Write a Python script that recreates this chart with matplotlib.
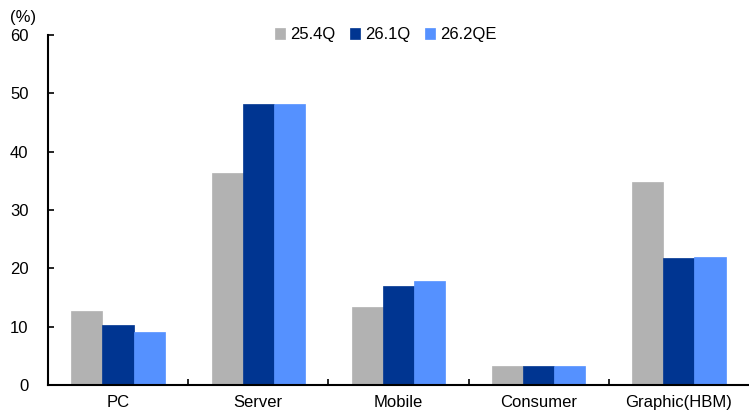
import numpy as np
import matplotlib.pyplot as plt

categories = ["PC", "Server", "Mobile", "Consumer", "Graphic(HBM)"]
series_names = ["25.4Q", "26.1Q", "26.2QE"]
q25_4 = [12.7, 36.4, 13.4, 3.3, 34.8]
q26_1 = [10.3, 48.1, 17.0, 3.3, 21.7]
q26_2e = [9.1, 48.1, 17.9, 3.3, 22.0]
colors = ["#B2B2B2", "#003591", "#5591FF"]

plt.rcParams['font.family'] = ['Liberation Sans', 'DejaVu Sans']

fig = plt.figure(figsize=(7.49, 4.17), dpi=100)
ax = fig.add_axes([0.064, 0.077, 0.936, 0.839])

x = np.arange(len(categories))
w = 0.222
for i, (vals, name) in enumerate(zip([q25_4, q26_1, q26_2e], series_names)):
    ax.bar(x + (i - 1) * w, vals, width=w, color=colors[i], label=name,
           edgecolor=colors[i], linewidth=0.5)

ax.set_xlim(-0.5, len(categories) - 0.5)
ax.set_ylim(0, 60)
ax.set_yticks(range(0, 61, 10))
ax.set_xticks(x)
ax.set_xticklabels(categories)
ax.set_xticks(np.arange(0.5, len(categories) - 0.5, 1), minor=True)
ax.tick_params(axis='x', which='major', length=0, labelsize=12, pad=7)
ax.tick_params(axis='x', which='minor', direction='in', length=4, width=1.2)
ax.tick_params(axis='y', direction='in', length=4, width=1.2, labelsize=12, pad=14)

for s in ['top', 'right']:
    ax.spines[s].set_visible(False)
for s in ['left', 'bottom']:
    ax.spines[s].set_linewidth(1.5)

fig.text(0.013, 0.957, "(%)", fontsize=12, va='center', ha='left')

ax.legend(loc='upper center', bbox_to_anchor=(0.482, 1.065), ncol=3, frameon=False,
          fontsize=12, handlelength=0.6, handleheight=0.6, handletextpad=0.3,
          columnspacing=0.9)

fig.savefig("out.png", dpi=100)
